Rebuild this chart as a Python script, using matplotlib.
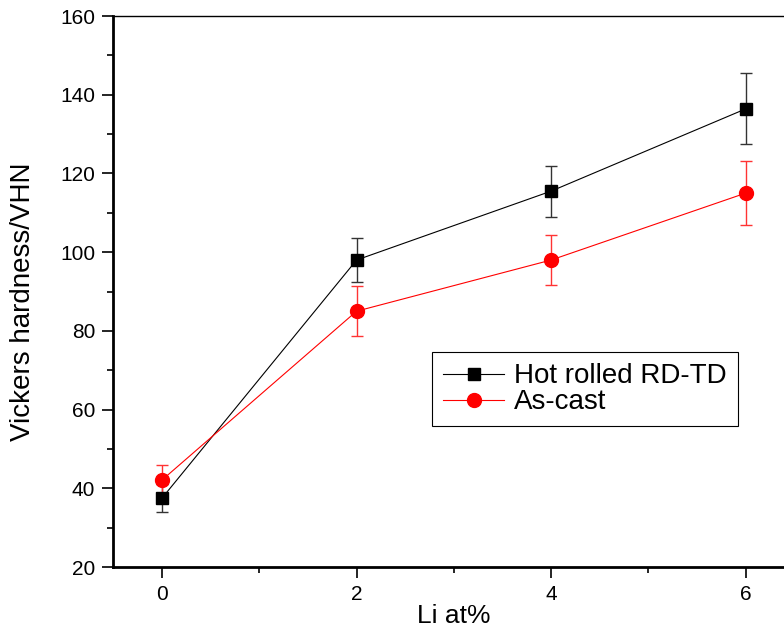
import numpy as np
import matplotlib.pyplot as plt
from matplotlib.ticker import MultipleLocator

plt.rcParams['font.family'] = ['Liberation Sans', 'DejaVu Sans']

# data
li = [0, 2, 4, 6]
hot_rolled = [37.5, 98.0, 115.5, 136.4]
hot_rolled_err = [3.5, 5.6, 6.5, 9.0]
as_cast = [42.1, 85.0, 98.0, 115.0]
as_cast_err = [3.8, 6.3, 6.3, 8.1]

fig = plt.figure(figsize=(7.84, 6.28), dpi=100)
ax = fig.add_axes([0.1446, 0.0971, 0.8685, 0.8774])

eb1 = ax.errorbar(li, hot_rolled, yerr=hot_rolled_err, color='black', marker='s',
                  markersize=8.5, linewidth=0.8, ecolor='#333333', elinewidth=1,
                  capsize=4, capthick=1, label='Hot rolled RD-TD', zorder=3)
eb2 = ax.errorbar(li, as_cast, yerr=as_cast_err, color='red', marker='o',
                  markersize=10, linewidth=0.8, ecolor='#ff3333', elinewidth=1,
                  capsize=4, capthick=1, label='As-cast', zorder=3)

ax.set_xlim(-0.5, 6.5)
ax.set_ylim(20, 160)
ax.xaxis.set_major_locator(MultipleLocator(2))
ax.xaxis.set_minor_locator(MultipleLocator(1))
ax.yaxis.set_major_locator(MultipleLocator(20))
ax.yaxis.set_minor_locator(MultipleLocator(10))
ax.tick_params(which='major', direction='out', length=8, width=1.2, labelsize=15, pad=5)
ax.tick_params(which='minor', direction='out', length=4, width=1.2)
ax.spines['left'].set_linewidth(2)
ax.spines['bottom'].set_linewidth(2)
ax.spines['top'].set_linewidth(1)
ax.spines['right'].set_visible(False)

ax.set_xlabel('Li at%', fontsize=19, labelpad=0)
ax.set_ylabel('Vickers hardness/VHN', fontsize=20)
ax.yaxis.set_label_coords(-0.113, 0.481)

leg = ax.legend([eb1.lines[0], eb2.lines[0]], ['Hot rolled RD-TD', 'As-cast'],
                loc='upper left', bbox_to_anchor=(0.468, 0.390), borderaxespad=0,
                fontsize=20, frameon=True, fancybox=False, edgecolor='black',
                framealpha=1, handlelength=2.2, handletextpad=0.35,
                borderpad=0.4, labelspacing=0.0)
leg.get_frame().set_linewidth(0.8)

fig.savefig('out.png', dpi=100)
